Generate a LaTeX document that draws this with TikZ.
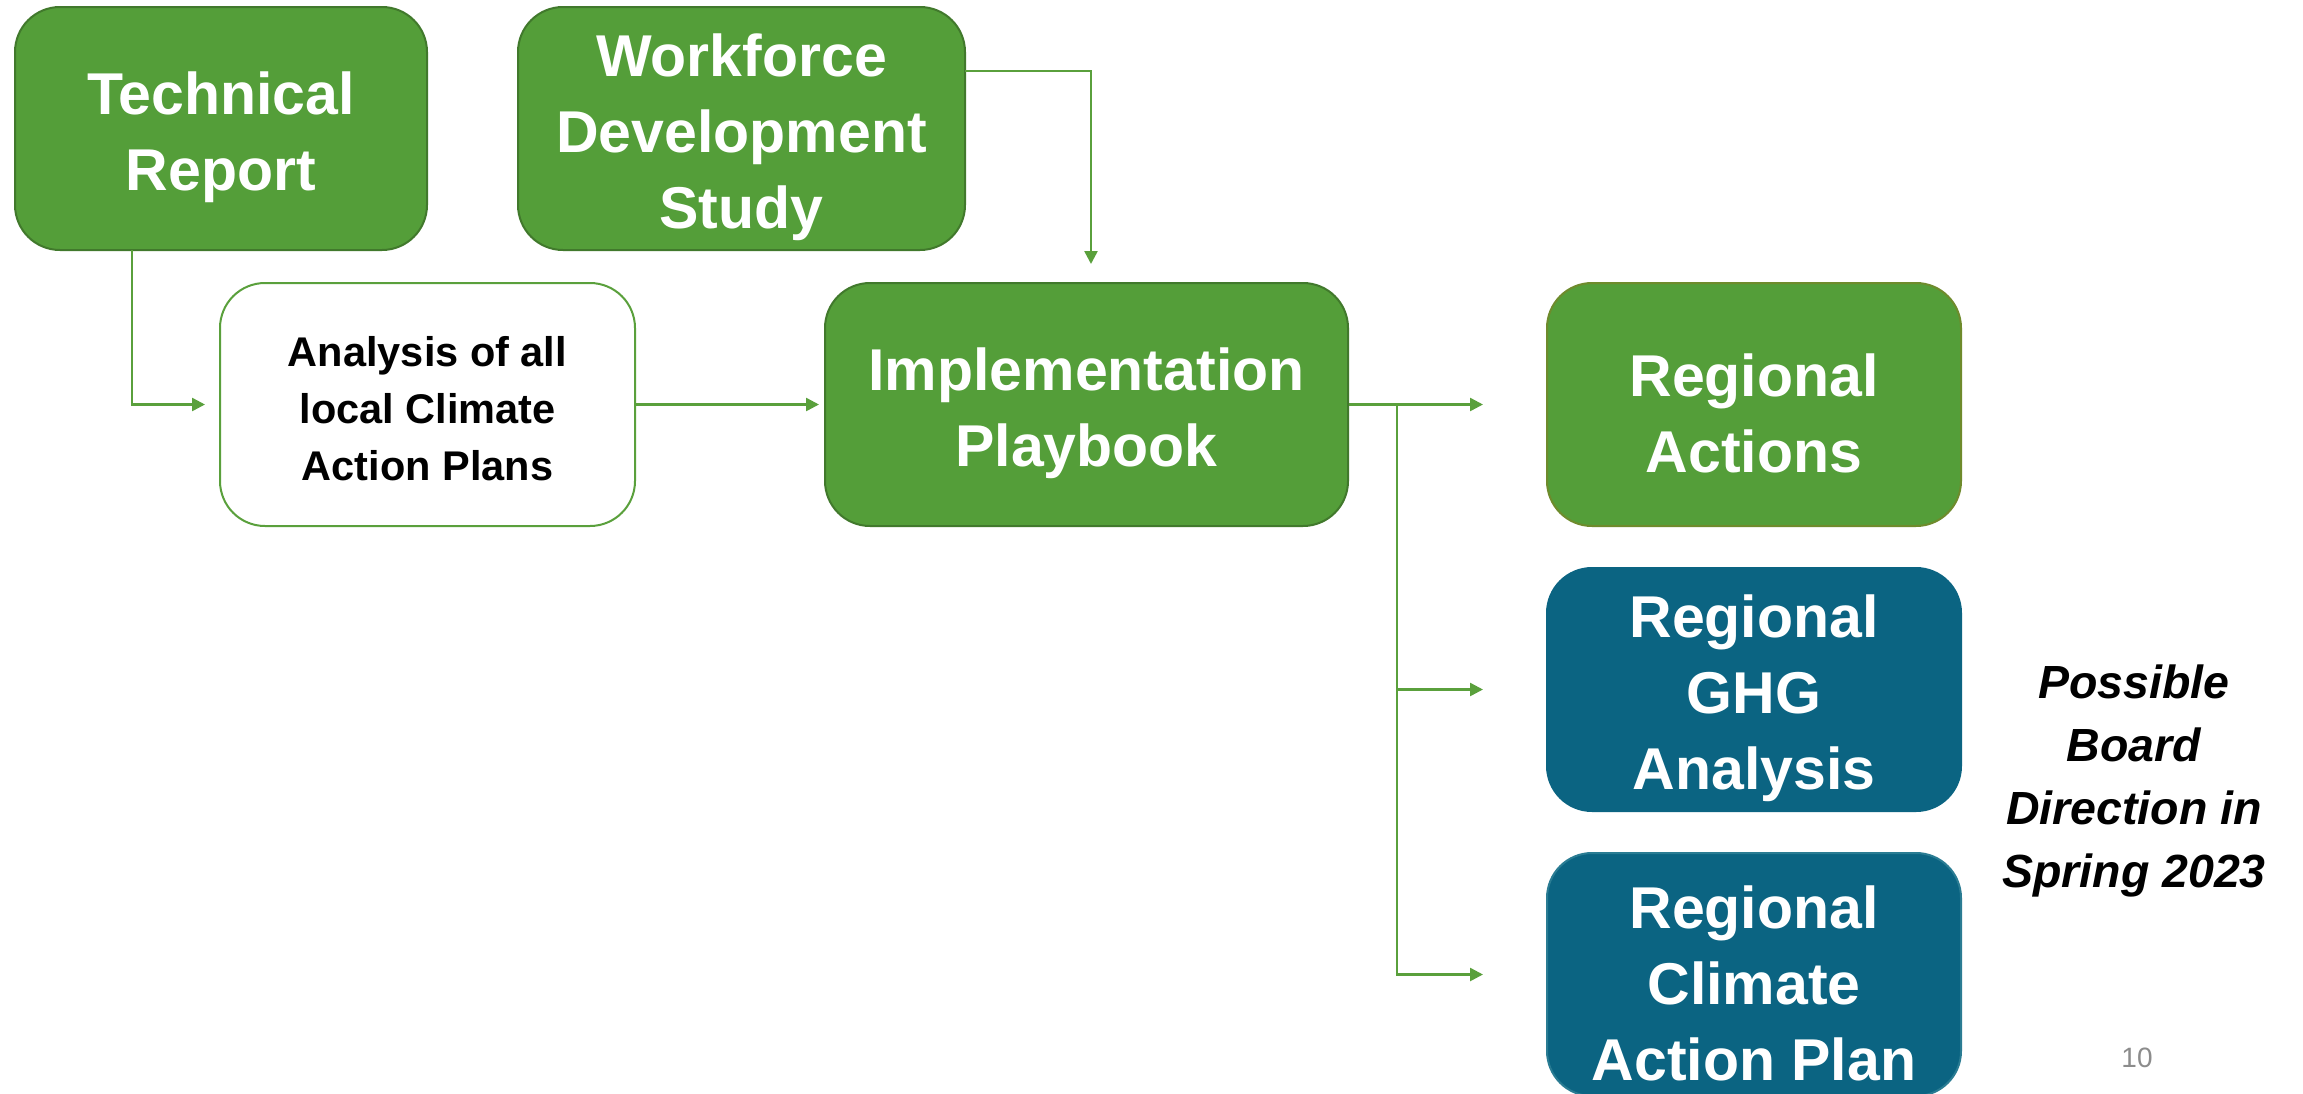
\documentclass[tikz,border=0pt]{standalone}
\usepackage{fontspec}
\setmainfont{Liberation Sans}
\usetikzlibrary{arrows.meta}
\definecolor{gfill}{HTML}{549E39}
\definecolor{gdraw}{HTML}{41792C}
\definecolor{tfill}{HTML}{0B6482}
\definecolor{tdraw}{HTML}{2A7C93}
\definecolor{odraw}{HTML}{6E8B2C}
\definecolor{gline}{HTML}{5AA03C}
\definecolor{pgnum}{HTML}{8C8C8C}
\tikzset{
  box/.style={rounded corners=45pt, minimum height=243pt, align=center, line width=2pt, inner sep=0pt},
  bigtext/.style={font=\bfseries\fontsize{59}{76}\selectfont, text=white, align=center},
  btext/.style={label={[bigtext, yshift=-9pt]center:#1}},
  greenbox/.style={box, fill=gfill, draw=gdraw},
  tealbox/.style={box, fill=tfill, draw=tdraw},
  whitebox/.style={box, fill=white, draw=gline},
  stext/.style={label={[font=\bfseries\fontsize{41.5}{57}\selectfont, text=black, align=center, yshift=-4.5pt]center:#1}},
  conn/.style={draw=gline, line width=2.5pt, -{Triangle[length=13pt,width=13pt]}}
}
\begin{document}
\begin{tikzpicture}[x=1pt,y=-1pt]
\useasboundingbox (0,0) rectangle (2303,1093);
\fill[white] (0,0) rectangle (2303,1093);
\node[greenbox, minimum width=412pt, btext={Technical\\Report}] (tech) at (221,128.5) {};
\node[greenbox, minimum width=447pt, btext={Workforce\\Development\\Study}] (work) at (741.5,128.5) {};
\node[whitebox, minimum width=415pt, stext={Analysis of all\\local Climate\\Action Plans}] (ana) at (427.5,404.5) {};
\node[greenbox, minimum width=523pt, btext={Implementation\\Playbook}] (impl) at (1086.5,404.5) {};
\node[greenbox, draw=odraw, minimum width=414pt, btext={Regional\\Actions}] (ra) at (1754,404.5) {};
\node[tealbox, draw=tfill, minimum width=414pt, btext={Regional\\GHG\\Analysis}] (ghg) at (1754,689.5) {};
\node[tealbox, minimum width=414pt, btext={Regional\\Climate\\Action Plan}] (cap) at (1754,974.5) {};
\node[font=\bfseries\itshape\fontsize{46.5}{63}\selectfont, align=center, text=black] (pbd) at (2134,780.5) {Possible\\Board\\Direction in\\Spring 2023};
\node[font=\fontsize{28}{32}\selectfont, text=pgnum] (pg) at (2137,1058) {10};
\coordinate (t1) at (132,250);
\coordinate (w1) at (965,71);
\coordinate (w2) at (1091,264);
\coordinate (br) at (1397,405);
\draw[conn, shorten >=14pt] (t1) |- (ana.west);
\draw[conn, shorten >=5pt] (ana.east) -- (impl.west);
\draw[conn] (w1) -| (w2);
\draw[conn, shorten >=63pt] (impl.east) -- (ra.west);
\draw[conn, shorten >=63pt] (br) |- (ghg.west);
\draw[conn, shorten >=63pt] (br) |- (cap.west);
\end{tikzpicture}
\end{document}
